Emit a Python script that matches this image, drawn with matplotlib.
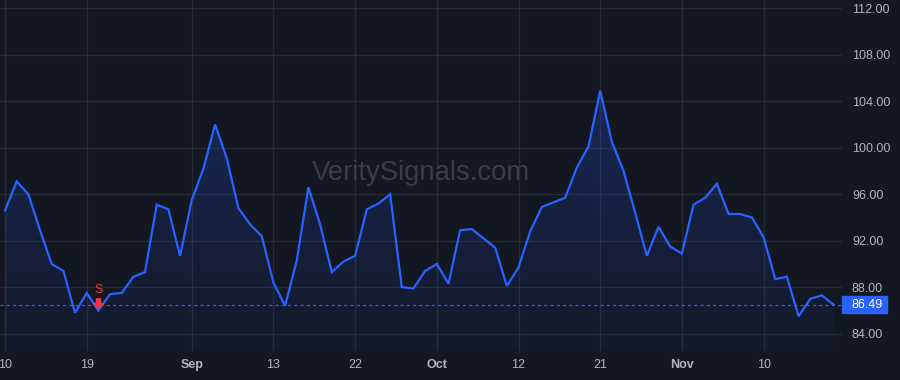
import numpy as np
import matplotlib
matplotlib.use("Agg")
import matplotlib.pyplot as plt
from matplotlib.path import Path
from matplotlib.patches import Rectangle
from matplotlib import transforms
from matplotlib.colors import to_rgb

# ---- data ----
prices = [94.6, 97.1, 96.0, 92.9, 90.0, 89.4, 85.8, 87.5, 86.0, 87.4,
          87.5, 88.9, 89.3, 95.1, 94.7, 90.7, 95.5, 98.2, 102.0, 99.1,
          94.8, 93.4, 92.4, 88.4, 86.4, 90.3, 96.6, 93.4, 89.3, 90.2,
          90.7, 94.7, 95.2, 96.0, 88.0, 87.9, 89.4, 90.0, 88.3, 92.9,
          93.0, 92.2, 91.4, 88.1, 89.7, 92.8, 94.9, 95.3, 95.7, 98.3,
          100.1, 104.9, 100.5, 98.0, 94.4, 90.7, 93.2, 91.5, 90.9, 95.1,
          95.7, 96.9, 94.3, 94.3, 94.0, 92.3, 88.7, 88.9, 85.5, 87.0,
          87.3, 86.49]
tick_idx = [0, 7, 16, 23, 30, 37, 44, 51, 58, 65]
tick_labels = ['10', '19', 'Sep', '13', '22', 'Oct', '12', '21', 'Nov', '10']
bold_labels = ['Sep', 'Oct', 'Nov']
y_ticks = [84, 88, 92, 96, 100, 104, 108, 112]
last_price = 86.49
signal_idx = 8
signal_text = 'S'
watermark = 'VeritySignals.com'

BG = '#131722'
GRID = '#262a35'
LINE = '#2962ff'
TXT = '#b2b5be'
RED = '#f23645'

plt.rcParams['font.family'] = ['Liberation Sans', 'DejaVu Sans']

fig = plt.figure(figsize=(9, 3.8), dpi=100, facecolor=BG)
ax = fig.add_axes([0, 1 - 351 / 380, 842 / 900, 351 / 380])
ax.set_facecolor(BG)

x = np.arange(len(prices))
y = np.array(prices)

ax.set_xlim(-0.43, 71.72)
ax.set_ylim(82.51, 112.71)

# gradient fill
poly = ax.fill_between(x, y, 82.51, color='none', lw=0)
c = np.array(to_rgb(LINE))
n = 256
alphas = np.linspace(0.03, 0.24, n)[:, None]
grad = np.zeros((n, 1, 4))
grad[:, :, :3] = c
grad[:, :, 3] = alphas
img = ax.imshow(grad, extent=[x[0], x[-1], 82.51, 105.5], origin='lower',
                aspect='auto', zorder=1)
clip = poly.get_paths()[0]
img.set_clip_path(clip, transform=ax.transData)

# grid
for t in tick_idx:
    ax.axvline(t, color=GRID, lw=1, zorder=0.5)
for t in y_ticks:
    ax.axhline(t, color=GRID, lw=1, zorder=0.5)

ax.plot(x, y, color=LINE, lw=1.6, zorder=3, solid_joinstyle='miter')
ax.axhline(last_price, color=LINE, lw=0.9, ls=(0, (2.5, 2.5)), zorder=2)

# ticks
ax.yaxis.tick_right()
ax.set_yticks(y_ticks)
ax.set_yticklabels([f'{v:.2f}' for v in y_ticks])
ax.set_xticks(tick_idx)
ax.set_xticklabels(tick_labels)
ax.tick_params(axis='both', length=0, colors=TXT, labelsize=9)
ax.tick_params(axis='y', pad=7.2)
ax.tick_params(axis='x', pad=5.5)
for lab in ax.get_xticklabels():
    if lab.get_text() in bold_labels:
        lab.set_fontweight('bold')
for s in ax.spines.values():
    s.set_visible(False)

# price label
bt = transforms.blended_transform_factory(fig.transFigure, ax.transData)
hh = 8.3 / 11.62
rect = Rectangle((841.7 / 900, last_price - hh), 45.6 / 900, 2 * hh,
                 transform=bt, color=LINE, clip_on=False, zorder=5)
ax.add_patch(rect)
ax.text(852 / 900, last_price, f'{last_price:.2f}', transform=bt, color='white',
        fontsize=9, va='center', ha='left', zorder=6, clip_on=False)

# signal marker
arrow = Path([(-0.22, 0.5), (0.22, 0.5), (0.22, 0.0), (0.55, 0.0), (0.0, -0.5),
              (-0.55, 0.0), (-0.22, 0.0), (-0.22, 0.5)])
tr_arrow = transforms.offset_copy(ax.transData, fig=fig, x=0, y=5.5, units='points')
ax.plot([signal_idx], [prices[signal_idx]], marker=arrow, markersize=7.5,
        color=RED, transform=tr_arrow, zorder=4, lw=0)
tr_s = transforms.offset_copy(ax.transData, fig=fig, x=0, y=14.4, units='points')
ax.text(signal_idx, prices[signal_idx], signal_text, color=RED, fontsize=9,
        ha='center', va='center', transform=tr_s, zorder=4)

# watermark
fig.text(421 / 900, 1 - 173 / 380, watermark, color='#393d49', fontsize=19.8,
         ha='center', va='center', zorder=0.2)

fig.savefig('out.png', dpi=100, facecolor=BG)
